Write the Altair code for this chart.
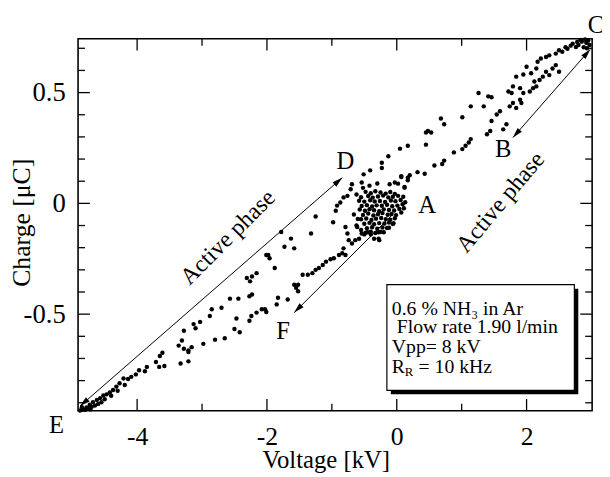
import altair as alt
import pandas as pd

SERIF = "Liberation Serif"

# ---- measured points (Voltage kV, Charge uC) ----
volt = [
    -2.31, -2.57, -2.44, -2.27, -2.70, -2.85, -2.88, -3.03, -3.13, -3.10, -3.28, -3.31, -3.36, -3.28, -3.21,
    -3.16, -3.21, -3.33, -3.21, -3.61, -3.65, -3.71, -3.66, -3.58, -3.85, -3.88, -3.97, -4.02, -4.09, -4.14,
    -4.21, -4.19, -4.27, -4.32, -4.37, -4.42, -4.47, -4.52, -4.57, -4.62, -4.68, -4.73, -4.78, -4.83,
    -4.85, -4.80, -4.75, -4.70, -4.65, -4.88, -4.72, -4.60, -4.55, -4.50, -4.40, -4.30,
    -2.16, -2.01, -1.88, -1.73, -1.58,
    -2.98, -2.80, -2.65, -2.50, -2.42, -2.27, -2.24, -2.47, -2.03, -1.85, -1.68, -1.58, -1.52, -1.45, -1.30,
    0.05, -0.13, -0.23, -0.23, -0.41, -0.51, -0.54, -0.69, -0.71, -0.76, -0.82, -0.87, -0.92, -0.94, -0.98,
    -1.25, -0.79, -0.76, -0.74, -0.82, -0.84, -0.79, -1.32, -1.63, -1.78, -1.98, -1.96, -2.23, -2.26, -2.23,
    -2.08, -2.01, -2.16,
    -0.64, -0.69, -0.89, -0.97, -1.02, -1.09, -1.14, -1.20, -1.25, -1.37, -1.52, -1.55, -1.83, -0.27,
    -0.11, -0.03, 0.07, 0.17, 0.12,
    0.17, 0.45, 0.45, 0.48, 0.53, 0.68, 0.73, 1.01, 1.14, 1.26, 1.34, 1.41, 1.46, 1.72, 1.77, 1.79, 1.90,
    1.84, 1.95, 2.00, 2.07, 2.15, 2.17, 2.22, 2.30, 2.35, 2.45, 2.50, 2.55, 2.63, 2.71, 2.76,
    2.80, 2.85, 2.88, 2.92, 2.95, 2.97, 2.90, 2.83, 2.78, 2.68, 2.60, 2.93,
    2.50, 2.45, 2.40, 2.35, 2.30, 2.25, 2.20, 2.15, 2.12, 2.10, 2.05, 1.95, 1.90, 1.92, 1.79, 1.74, 1.84,
    1.59, 1.54, 1.46, 1.69, 1.64, 1.39, 1.44, 1.14, 1.11, 1.06, 1.01, 0.88, 0.73, 0.70, 0.58, 0.43, 0.32,
    0.20, 0.17, 0.12, 0.07, 0.02,
    -0.28, -0.54, -0.61,
    -0.45, -0.50, -0.55, -0.58, -0.62, -0.66, -0.40, -0.35, -0.28, -0.20, -0.12, -0.05, -0.30, -0.42, -0.52,
]
charge = [
    -0.337, -0.430, -0.430, -0.419, -0.471, -0.478, -0.508, -0.535, -0.545, -0.564, -0.575, -0.619, -0.642, -0.656, -0.664,
    -0.649, -0.671, -0.723, -0.713, -0.674, -0.689, -0.716, -0.738, -0.734, -0.738, -0.758, -0.753, -0.772, -0.783, -0.793,
    -0.790, -0.820, -0.812, -0.827, -0.842, -0.853, -0.862, -0.867, -0.879, -0.887, -0.897, -0.909, -0.921, -0.931,
    -0.920, -0.932, -0.925, -0.918, -0.912, -0.935, -0.930, -0.905, -0.898, -0.884, -0.868, -0.846,
    -0.315, -0.233, -0.292, -0.196, -0.203,
    -0.634, -0.615, -0.609, -0.567, -0.582, -0.530, -0.508, -0.520, -0.478, -0.456, -0.434, -0.367, -0.397, -0.322, -0.315,
    0.247, 0.213, 0.183, 0.160, 0.149, 0.131, 0.094, 0.086, 0.064, 0.034, 0.027, 0.004, -0.010, -0.033, -0.085,
    -0.059, -0.107, -0.136, -0.166, -0.203, -0.225, -0.233, -0.136, -0.159, -0.129, -0.233, -0.248, -0.330, -0.352, -0.411,
    -0.478, -0.490, -0.493,
    -0.166, -0.181, -0.233, -0.248, -0.252, -0.263, -0.278, -0.292, -0.300, -0.322, -0.367, -0.381, -0.426, -0.166,
    0.086, 0.094, 0.123, 0.116, 0.071,
    0.260, 0.265, 0.320, 0.327, 0.320, 0.383, 0.357, 0.389, 0.438, 0.498, 0.438, 0.483, 0.479, 0.505, 0.498, 0.528, 0.520,
    0.572, 0.582, 0.617, 0.587, 0.609, 0.639, 0.654, 0.661, 0.668, 0.676, 0.691, 0.684, 0.698, 0.721, 0.706,
    0.715, 0.730, 0.705, 0.725, 0.735, 0.715, 0.740, 0.738, 0.728, 0.712, 0.705, 0.700,
    0.594, 0.624, 0.609, 0.579, 0.594, 0.572, 0.557, 0.528, 0.550, 0.520, 0.505, 0.498, 0.468, 0.453, 0.453, 0.438, 0.431,
    0.416, 0.401, 0.372, 0.357, 0.334, 0.312, 0.327, 0.290, 0.275, 0.260, 0.245, 0.230, 0.193, 0.178, 0.171, 0.134, 0.141,
    0.127, 0.104, 0.074, 0.119, 0.089,
    -0.159, -0.136, -0.107,
    -0.13, -0.14, -0.12, -0.16, -0.10, -0.05, -0.14, -0.16, -0.13, -0.13, -0.11, -0.09, 0.09, 0.08, 0.07,
]

# dense cloud of points around A
cluster_volt = [
    -0.48, -0.40, -0.33, -0.25, -0.17, -0.10, -0.03,
    -0.55, -0.44, -0.37, -0.29, -0.21, -0.13, -0.06, 0.02,
    -0.58, -0.50, -0.41, -0.34, -0.26, -0.18, -0.09, -0.02, 0.06,
    -0.54, -0.46, -0.38, -0.31, -0.23, -0.15, -0.07, 0.01, 0.09,
    -0.57, -0.49, -0.42, -0.35, -0.27, -0.20, -0.12, -0.04, 0.04, 0.11,
    -0.52, -0.44, -0.36, -0.29, -0.22, -0.14, -0.08, -0.01, 0.07,
    -0.55, -0.47, -0.39, -0.32, -0.24, -0.17, -0.10, -0.03,
    -0.50, -0.42, -0.35, -0.27, -0.19, -0.12, -0.06,
    -0.46, -0.38, -0.30, -0.22, -0.15,
    -0.48, -0.40, -0.33, -0.25,
    -0.62, -0.60, 0.13, 0.10,
]
cluster_charge = [
    0.052, 0.046, 0.055, 0.049, 0.044, 0.051, 0.043,
    0.028, 0.033, 0.026, 0.031, 0.035, 0.027, 0.030, 0.034,
    0.012, 0.008, 0.014, 0.009, 0.011, 0.006, 0.013, 0.010, 0.015,
    -0.012, -0.008, -0.014, -0.009, -0.011, -0.006, -0.013, -0.010, -0.004,
    -0.028, -0.033, -0.026, -0.031, -0.035, -0.027, -0.030, -0.032, -0.025, -0.022,
    -0.052, -0.046, -0.055, -0.049, -0.044, -0.051, -0.048, -0.053, -0.041,
    -0.072, -0.068, -0.075, -0.069, -0.066, -0.071, -0.074, -0.067,
    -0.092, -0.088, -0.094, -0.089, -0.091, -0.086, -0.093,
    -0.112, -0.108, -0.114, -0.109, -0.111,
    -0.132, -0.128, -0.134, -0.129,
    0.040, -0.070, 0.005, 0.030,
]

x_major = [-4, -2, 0, 2]
x_minor = [-3, -1, 1]
y_major = [-0.5, 0, 0.5]
y_minor = [-0.9, -0.8, -0.7, -0.6, -0.4, -0.3, -0.2, -0.1, 0.1, 0.2, 0.3, 0.4, 0.6, 0.7]

letters = ["A", "B", "C", "D", "E", "F"]
letter_x = [0.47, 1.64, 3.07, -0.79, -5.24, -1.75]
letter_y = [-0.010, 0.244, 0.805, 0.190, -1.003, -0.576]

arrow_x1 = [-4.88, 2.98, -0.08]
arrow_y1 = [-0.915, 0.695, -0.055]
arrow_x2 = [-0.84, 1.79, -1.58]
arrow_y2 = [0.116, 0.297, -0.493]
head_x = [-0.84, -4.88, 2.98, 1.79, -1.58]
head_y = [0.116, -0.915, 0.695, 0.297, -0.493]
head_angle = [48.8, 228.8, 41.0, 221.0, 225.0]

phase_x = [-2.60, 1.60]
phase_y = [-0.155, 0.004]
phase_angle = [315, 310]

box_x = [-0.152, 2.736]
box_y = [-0.367, -0.844]
legend_lines = ["0.6 % NH\u2083 in Ar", "Flow rate 1.90 l/min", "Vpp= 8 kV", "R"]
legend_x = -0.076
legend_y = [-0.478, -0.560, -0.649, -0.738]

W, H = 521, 377
xs = alt.Scale(domain=[-4.91, 3.01], nice=False, zero=False)
ys = alt.Scale(domain=[-0.936, 0.743], nice=False, zero=False)

X_AX = alt.Axis(
    values=x_major, ticks=False, domain=False, grid=False,
    labelFont=SERIF, labelFontSize=26, labelColor="black", labelPadding=13,
    labelExpr="datum.value < 0 ? '-' + format(-datum.value, 'd') : format(datum.value, 'd')",
    title="Voltage [kV]", titleFont=SERIF, titleFontSize=25, titleFontWeight="normal",
    titleColor="black", titleX=251, titleY=50, titleAlign="center", titleBaseline="middle")
Y_AX = alt.Axis(
    values=y_major, ticks=False, domain=False, grid=False,
    labelFont=SERIF, labelFontSize=27, labelColor="black", labelPadding=13,
    labelExpr="datum.value == 0 ? '0' : (datum.value < 0 ? '-' + format(-datum.value, '.1f') : format(datum.value, '.1f'))",
    title="Charge [\u03bcC]", titleFont=SERIF, titleFontSize=26, titleFontWeight="normal",
    titleColor="black", titleX=-57, titleY=186, titleAngle=270, titleAlign="center",
    titleBaseline="middle")


def X(field="v"):
    return alt.X(f"{field}:Q", scale=xs, axis=X_AX, title="Voltage [kV]")


def Y(field="q"):
    return alt.Y(f"{field}:Q", scale=ys, axis=Y_AX, title="Charge [\u03bcC]")


df = pd.DataFrame({"v": volt + cluster_volt, "q": charge + cluster_charge})
pts = alt.Chart(df).mark_circle(size=20, color="black", opacity=1).encode(x=X(), y=Y())


def xticks(vals, length, top):
    d = pd.DataFrame({"v": vals})
    return alt.Chart(d).mark_rule(color="black", strokeWidth=1.3).encode(
        x=X(), y=alt.value(0 if top else H), y2=alt.value(length if top else H - length),
    )


def yticks(vals, length, right):
    d = pd.DataFrame({"q": vals})
    return alt.Chart(d).mark_rule(color="black", strokeWidth=1.3).encode(
        y=Y(), x=alt.value(W if right else 0), x2=alt.value(W - length if right else length),
    )


ticks = [
    xticks(x_major, 12, False), xticks(x_minor, 7, False),
    xticks(x_major, 12, True), xticks(x_minor, 7, True),
    yticks(y_major, 12, False), yticks(y_minor, 7, False),
    yticks(y_major, 12, True), yticks(y_minor, 7, True),
]

arr = pd.DataFrame({"v": arrow_x1, "q": arrow_y1, "v2": arrow_x2, "q2": arrow_y2})
arrow_lines = alt.Chart(arr).mark_rule(color="black", strokeWidth=1).encode(
    x=X(), y=Y(), x2="v2:Q", y2="q2:Q",
)
heads = pd.DataFrame({"v": head_x, "q": head_y, "a": head_angle})
arrow_heads = alt.Chart(heads).mark_point(
    shape="M0,0L0.55,2L-0.55,2Z", filled=True, color="black", opacity=1, size=110, strokeWidth=0
).encode(x=X(), y=Y(), angle=alt.Angle("a:Q", scale=None))

ld = pd.DataFrame({"v": letter_x, "q": letter_y, "t": letters})
letter_layer = alt.Chart(ld).mark_text(
    font=SERIF, fontSize=25, color="black", align="center", baseline="middle"
).encode(x=X(), y=Y(), text="t:N")

ph = pd.DataFrame({"v": phase_x, "q": phase_y, "a": phase_angle, "t": ["Active phase", "Active phase"]})
phase_layer = alt.Chart(ph).mark_text(
    font=SERIF, fontSize=24, color="black", align="center", baseline="middle"
).encode(x=X(), y=Y(), angle=alt.Angle("a:Q", scale=None), text="t:N")

bx = pd.DataFrame({"v": [box_x[0]], "v2": [box_x[1]], "q": [box_y[0]], "q2": [box_y[1]]})
shadow = alt.Chart(bx).mark_rect(
    color="black", xOffset=4, x2Offset=4, yOffset=4, y2Offset=4
).encode(x=X(), x2="v2:Q", y=Y(), y2="q2:Q")
box = alt.Chart(bx).mark_rect(fill="white", stroke="black", strokeWidth=1.2).encode(
    x=X(), x2="v2:Q", y=Y(), y2="q2:Q",
)

leg_text = []
for i, t in enumerate(legend_lines):
    d = pd.DataFrame({"v": [legend_x], "q": [legend_y[i]], "t": [t]})
    leg_text.append(alt.Chart(d).mark_text(
        font=SERIF, fontSize=20, color="black", align="left", baseline="middle",
        dx=(5 if i == 1 else 0)
    ).encode(x=X(), y=Y(), text="t:N"))
sub = pd.DataFrame({"v": [legend_x], "q": [legend_y[3]], "t": ["R"]})
leg_text.append(alt.Chart(sub).mark_text(
    font=SERIF, fontSize=13, color="black", align="left", baseline="middle", dx=13, dy=5
).encode(x=X(), y=Y(), text="t:N"))
rest = pd.DataFrame({"v": [legend_x], "q": [legend_y[3]], "t": ["= 10 kHz"]})
leg_text.append(alt.Chart(rest).mark_text(
    font=SERIF, fontSize=20, color="black", align="left", baseline="middle", dx=27
).encode(x=X(), y=Y(), text="t:N"))

chart = alt.layer(
    pts, *ticks, arrow_lines, arrow_heads, letter_layer, phase_layer, shadow, box, *leg_text
).properties(
    width=W, height=H,
    autosize=alt.AutoSizeParams(type="none"),
    padding={"left": 71, "top": 28, "right": 10, "bottom": 66},
    background="white",
).configure_view(stroke="black", strokeWidth=1.6)

chart.save("out.html", embed_options={"renderer": "svg", "actions": False})
